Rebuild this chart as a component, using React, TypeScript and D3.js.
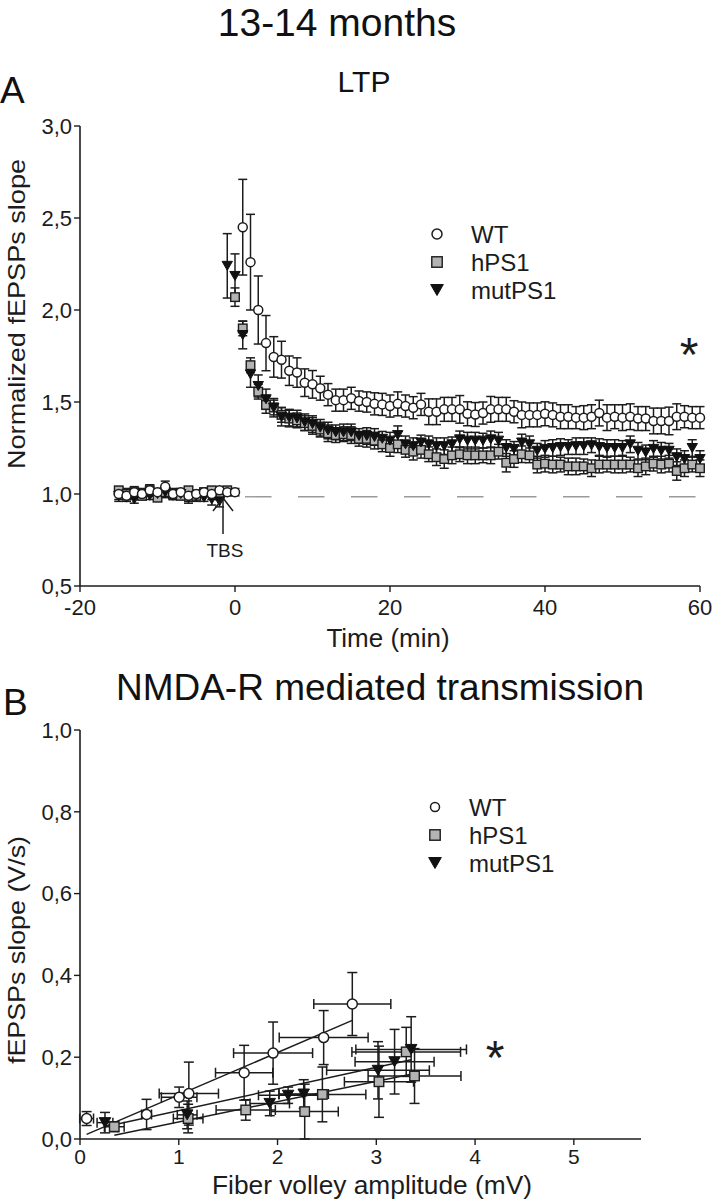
import React from "react";
import * as d3 from "d3";

const FONT = "'Liberation Sans', Arial, Helvetica, sans-serif";
const INK = "#1c1c1c";
const GREY_FILL = "#b3b3b3";

// ---------- Panel A : LTP ----------
const timeTicks = [-20, 0, 20, 40, 60];
const ltpTicks = [0.5, 1.0, 1.5, 2.0, 2.5, 3.0];
const baselineLevel = 0.985;

const wtStart = -15;
const wtBaseline = [1.0, 0.99, 1.01, 1.0, 1.02, 1.01, 1.04, 1.0, 1.01, 0.99, 1.0, 1.01, 1.0, 1.02, 1.01, 1.01];
const wtBaselineErr = [0.03, 0.02, 0.03, 0.02, 0.03, 0.02, 0.03, 0.02, 0.02, 0.03, 0.02, 0.02, 0.03, 0.02, 0.02, 0.02];
const wtPost = [
  2.45, 2.26, 2.0, 1.82, 1.745, 1.73, 1.67, 1.66, 1.605, 1.596,
  1.575, 1.54, 1.51, 1.51, 1.52, 1.505, 1.5, 1.49, 1.487, 1.478,
  1.49, 1.478, 1.469, 1.487, 1.447, 1.447, 1.46, 1.46, 1.46, 1.436,
  1.432, 1.44, 1.46, 1.46, 1.46, 1.447, 1.43, 1.43, 1.43, 1.436,
  1.43, 1.42, 1.42, 1.415, 1.415, 1.42, 1.44, 1.415, 1.42, 1.415,
  1.42, 1.41, 1.41, 1.397, 1.397, 1.397, 1.42, 1.42, 1.415, 1.415,
];
const wtPostErr = [
  0.26, 0.26, 0.185, 0.15, 0.11, 0.1, 0.08, 0.08, 0.075, 0.075,
  0.065, 0.06, 0.06, 0.06, 0.06, 0.055, 0.055, 0.06, 0.06, 0.06,
  0.065, 0.06, 0.06, 0.06, 0.07, 0.07, 0.065, 0.065, 0.075, 0.065,
  0.065, 0.06, 0.07, 0.065, 0.065, 0.06, 0.07, 0.065, 0.065, 0.065,
  0.065, 0.065, 0.065, 0.06, 0.065, 0.065, 0.07, 0.07, 0.065, 0.07,
  0.07, 0.065, 0.065, 0.07, 0.07, 0.075, 0.07, 0.06, 0.06, 0.06,
];

const hps1Start = -15;
const hps1Baseline = [1.02, 1.0, 1.01, 0.99, 1.02, 0.98, 1.01, 1.0, 0.99, 1.02, 0.99, 1.01, 1.02, 1.0, 1.02];
const hps1BaselineErr = [0.02, 0.03, 0.02, 0.02, 0.03, 0.02, 0.02, 0.03, 0.02, 0.02, 0.03, 0.02, 0.02, 0.03, 0.02];
const hps1Post = [
  2.07, 1.9, 1.7, 1.556, 1.484, 1.47, 1.43, 1.41, 1.4, 1.385,
  1.37, 1.35, 1.33, 1.32, 1.325, 1.32, 1.3, 1.3, 1.29, 1.27,
  1.25, 1.27, 1.24, 1.23, 1.24, 1.216, 1.2, 1.19, 1.21, 1.216,
  1.21, 1.21, 1.21, 1.21, 1.23, 1.17, 1.19, 1.216, 1.21, 1.16,
  1.165, 1.16, 1.16, 1.15, 1.15, 1.15, 1.14, 1.16, 1.16, 1.16,
  1.16, 1.16, 1.14, 1.15, 1.165, 1.16, 1.165, 1.125, 1.14, 1.16, 1.14,
];
const hps1PostErr = [
  0.05, 0.04, 0.04, 0.04, 0.045, 0.04, 0.04, 0.045, 0.04, 0.04,
  0.045, 0.04, 0.045, 0.04, 0.04, 0.045, 0.04, 0.045, 0.045, 0.04,
  0.045, 0.045, 0.04, 0.045, 0.045, 0.04, 0.045, 0.05, 0.045, 0.04,
  0.045, 0.045, 0.04, 0.045, 0.04, 0.05, 0.045, 0.045, 0.04, 0.045,
  0.045, 0.045, 0.04, 0.045, 0.045, 0.04, 0.045, 0.045, 0.04, 0.045,
  0.045, 0.04, 0.045, 0.045, 0.04, 0.045, 0.045, 0.05, 0.045, 0.04, 0.045,
];

const mutStart = -15;
const mutBaseline = [0.99, 0.98, 0.97, 1.0, 0.99, 1.0, 1.01, 0.99, 1.0, 0.98, 0.99, 0.98, 0.97, 0.96];
const mutBaselineErr = [0.03, 0.02, 0.02, 0.03, 0.02, 0.02, 0.03, 0.02, 0.02, 0.03, 0.02, 0.02, 0.03, 0.03];
const mutPost = [
  2.24, 2.185,
  1.864, 1.65, 1.587, 1.515, 1.469, 1.42, 1.415, 1.41, 1.39, 1.38,
  1.36, 1.345, 1.335, 1.335, 1.335, 1.315, 1.315, 1.31, 1.3, 1.29,
  1.32, 1.27, 1.26, 1.28, 1.27, 1.26, 1.26, 1.27, 1.297, 1.29,
  1.29, 1.29, 1.297, 1.29, 1.25, 1.245, 1.28, 1.27, 1.235, 1.245,
  1.25, 1.255, 1.255, 1.26, 1.26, 1.265, 1.255, 1.25, 1.25, 1.25,
  1.27, 1.235, 1.226, 1.245, 1.235, 1.235, 1.2, 1.19, 1.25, 1.19,
];
const mutPostErr = [
  0.175, 0.12,
  0.075, 0.07, 0.06, 0.055, 0.05, 0.05, 0.045, 0.045, 0.045, 0.045,
  0.045, 0.045, 0.04, 0.045, 0.045, 0.04, 0.045, 0.045, 0.04, 0.045,
  0.05, 0.045, 0.045, 0.04, 0.045, 0.045, 0.045, 0.04, 0.045, 0.045,
  0.045, 0.04, 0.045, 0.045, 0.045, 0.04, 0.045, 0.045, 0.04, 0.045,
  0.045, 0.045, 0.04, 0.045, 0.045, 0.04, 0.045, 0.045, 0.045, 0.04,
  0.045, 0.045, 0.04, 0.045, 0.045, 0.04, 0.045, 0.045, 0.045, 0.045,
];

// ---------- Panel B : NMDA-R ----------
const fvTicks = [0, 1, 2, 3, 4, 5];
const slopeTicks = [0, 0.2, 0.4, 0.6, 0.8, 1.0];

const wtFv = [0.067, 0.674, 1.004, 1.102, 1.662, 1.955, 2.467, 2.757];
const wtSlope = [0.05, 0.06, 0.102, 0.111, 0.162, 0.21, 0.248, 0.33];
const wtFvErr = [0.07, 0.05, 0.18, 0.3, 0.29, 0.4, 0.45, 0.39];
const wtSlopeErr = [0.017, 0.037, 0.025, 0.077, 0.067, 0.076, 0.066, 0.077];

const hps1Fv = [0.347, 1.095, 1.678, 2.275, 2.454, 3.027, 3.303, 3.387];
const hps1Slope = [0.03, 0.05, 0.071, 0.067, 0.109, 0.14, 0.213, 0.154];
const hps1FvErr = [0.1, 0.15, 0.3, 0.34, 0.44, 0.35, 0.55, 0.47];
const hps1SlopeErr = [0.012, 0.035, 0.025, 0.067, 0.067, 0.087, 0.06, 0.067];

const mutFv = [0.253, 1.085, 1.921, 2.107, 2.265, 3.017, 3.185, 3.353];
const mutSlope = [0.04, 0.059, 0.087, 0.107, 0.11, 0.168, 0.189, 0.219];
const mutFvErr = [0.08, 0.1, 0.2, 0.3, 0.25, 0.52, 0.4, 0.56];
const mutSlopeErr = [0.025, 0.034, 0.03, 0.02, 0.035, 0.07, 0.079, 0.08];

const fitSeries = ["WT", "hPS1", "mutPS1"];
const fitSlopes = [0.1036, 0.0496, 0.0529];
const fitIntercepts = [0.0043, -0.0078, 0.0166];

const legendLabels = ["WT", "hPS1", "mutPS1"];

// ---------- scales ----------
const xA = d3.scaleLinear().domain([-20, 60]).range([80, 700]);
const yA = d3.scaleLinear().domain([0.5, 3.0]).range([586, 126]);
const xB = d3.scaleLinear().domain([0, 5.68]).range([80, 641]);
const yB = d3.scaleLinear().domain([0, 1.0]).range([1139, 730]);

const comma = (v: number) => d3.format(".1f")(v).replace(".", ",");

type Pt = { t: number; v: number; e: number };
const buildSeries = (start: number, base: number[], baseErr: number[], post: number[], postErr: number[]): Pt[] => {
  const all = base.concat(post);
  const errs = baseErr.concat(postErr);
  return all.map((v, i) => ({ t: start + i, v, e: errs[i] }));
};

const seriesA: Record<string, Pt[]> = {
  WT: buildSeries(wtStart, wtBaseline, wtBaselineErr, wtPost, wtPostErr),
  hPS1: buildSeries(hps1Start, hps1Baseline, hps1BaselineErr, hps1Post, hps1PostErr),
  mutPS1: buildSeries(mutStart, mutBaseline, mutBaselineErr, mutPost, mutPostErr),
};

type PtB = { x: number; y: number; ex: number; ey: number };
const zipB = (xs: number[], ys: number[], exs: number[], eys: number[]): PtB[] =>
  xs.map((x, i) => ({ x, y: ys[i], ex: exs[i], ey: eys[i] }));

const seriesB: Record<string, PtB[]> = {
  WT: zipB(wtFv, wtSlope, wtFvErr, wtSlopeErr),
  hPS1: zipB(hps1Fv, hps1Slope, hps1FvErr, hps1SlopeErr),
  mutPS1: zipB(mutFv, mutSlope, mutFvErr, mutSlopeErr),
};

function Marker({ kind, x, y, size }: { kind: string; x: number; y: number; size: number }) {
  if (kind === "WT") {
    return <circle cx={x} cy={y} r={size / 2} fill="#fff" stroke={INK} strokeWidth={1.5} />;
  }
  if (kind === "hPS1") {
    const s = size * 0.95;
    return <rect x={x - s / 2} y={y - s / 2} width={s} height={s} fill={GREY_FILL} stroke={INK} strokeWidth={1.4} />;
  }
  const w = size * 1.15;
  const h = size * 1.0;
  return (
    <path
      d={`M${x - w / 2},${y - h / 2}L${x + w / 2},${y - h / 2}L${x},${y + h / 2}Z`}
      fill="#111"
      stroke="#111"
      strokeWidth={1}
    />
  );
}

const order = ["hPS1", "mutPS1", "WT"];

function PanelA() {
  const cap = 4.5;
  return (
    <g>
      <line x1={80} x2={80} y1={yA(3.0)} y2={yA(0.5)} stroke={INK} strokeWidth={1.6} />
      <line x1={80} x2={xA(60)} y1={yA(0.5)} y2={yA(0.5)} stroke={INK} strokeWidth={1.6} />
      {ltpTicks.map((v) => (
        <g key={"ya" + v}>
          <line x1={74} x2={80} y1={yA(v)} y2={yA(v)} stroke={INK} strokeWidth={1.4} />
          <text x={72} y={yA(v)} dy="0.35em" textAnchor="end" fontSize={22} fontFamily={FONT} fill={INK}>
            {comma(v)}
          </text>
        </g>
      ))}
      {timeTicks.map((t) => (
        <g key={"xa" + t}>
          <line x1={xA(t)} x2={xA(t)} y1={yA(0.5)} y2={yA(0.5) + 6} stroke={INK} strokeWidth={1.4} />
          <text x={xA(t)} y={615} textAnchor="middle" fontSize={22} fontFamily={FONT} fill={INK}>
            {t}
          </text>
        </g>
      ))}
      <text x={388} y={647} textAnchor="middle" fontSize={26} fontFamily={FONT} fill={INK}>
        Time (min)
      </text>
      <text
        transform={`translate(25,${314}) rotate(-90)`}
        textAnchor="middle"
        fontSize={24}
        fontFamily={FONT}
        fill={INK}
        textLength={310}
        lengthAdjust="spacingAndGlyphs"
      >
        Normalized fEPSPs slope
      </text>

      <line
        x1={245}
        x2={698}
        y1={yA(baselineLevel)}
        y2={yA(baselineLevel)}
        stroke="#9a9a9a"
        strokeWidth={1.4}
        strokeDasharray="26.5 26.5"
      />

      {order.map((k) =>
        seriesA[k].map((p, i) => {
          const x = xA(p.t);
          const y1 = yA(p.v + p.e);
          const y2 = yA(p.v - p.e);
          return (
            <g key={k + "e" + i} stroke={INK} strokeWidth={1.5}>
              <line x1={x} x2={x} y1={y1} y2={y2} />
              <line x1={x - cap} x2={x + cap} y1={y1} y2={y1} />
              <line x1={x - cap} x2={x + cap} y1={y2} y2={y2} />
            </g>
          );
        })
      )}
      {order.map((k) =>
        seriesA[k].map((p, i) => (
          <Marker key={k + "m" + i} kind={k} x={xA(p.t)} y={yA(p.v)} size={9} />
        ))
      )}

      <g stroke={INK} strokeWidth={1.5} fill="none">
        <line x1={223} x2={223} y1={498} y2={534} />
        <polyline points="213,511 223,498 233,511" />
      </g>
      <text x={225} y={557} textAnchor="middle" fontSize={19} fontFamily={FONT} fill={INK}>
        TBS
      </text>

      {legendLabels.map((lab, i) => (
        <g key={"la" + lab}>
          <Marker kind={lab} x={437} y={234 + i * 28} size={lab === "WT" ? 10 : 11} />
          <text x={471} y={242.5 + i * 28} fontSize={24} fontFamily={FONT} fill={INK}>
            {lab}
          </text>
        </g>
      ))}
      <text x={689} y={371} textAnchor="middle" fontSize={48} fontFamily={FONT} fill={INK}>
        *
      </text>
    </g>
  );
}

function PanelB() {
  const cap = 5;
  return (
    <g>
      <line x1={80} x2={80} y1={yB(1.0)} y2={yB(0)} stroke={INK} strokeWidth={1.6} />
      <line x1={80} x2={xB(5.68)} y1={yB(0)} y2={yB(0)} stroke={INK} strokeWidth={1.6} />
      {slopeTicks.map((v) => (
        <g key={"yb" + v}>
          <line x1={74} x2={80} y1={yB(v)} y2={yB(v)} stroke={INK} strokeWidth={1.4} />
          <text x={72} y={yB(v)} dy="0.35em" textAnchor="end" fontSize={22} fontFamily={FONT} fill={INK}>
            {comma(v)}
          </text>
        </g>
      ))}
      {fvTicks.map((t) => (
        <g key={"xb" + t}>
          <line x1={xB(t)} x2={xB(t)} y1={yB(0)} y2={yB(0) + 6} stroke={INK} strokeWidth={1.4} />
          <text x={xB(t)} y={1164} textAnchor="middle" fontSize={21} fontFamily={FONT} fill={INK}>
            {t}
          </text>
        </g>
      ))}
      <text x={372} y={1194} textAnchor="middle" fontSize={25} fontFamily={FONT} fill={INK}
        textLength={320} lengthAdjust="spacingAndGlyphs">
        Fiber volley amplitude (mV)
      </text>
      <text
        transform={`translate(25,${950}) rotate(-90)`}
        textAnchor="middle"
        fontSize={24}
        fontFamily={FONT}
        fill={INK}
        textLength={228}
        lengthAdjust="spacingAndGlyphs"
      >
        fEPSPs slope (V/s)
      </text>

      {order.map((k) =>
        seriesB[k].map((p, i) => {
          const x = xB(p.x);
          const y = yB(p.y);
          const xl = xB(p.x - p.ex);
          const xr = xB(p.x + p.ex);
          const yt = yB(p.y + p.ey);
          const yb = yB(Math.max(0, p.y - p.ey));
          return (
            <g key={k + "eb" + i} stroke={INK} strokeWidth={1.5}>
              <line x1={x} x2={x} y1={yt} y2={yb} />
              <line x1={x - cap} x2={x + cap} y1={yt} y2={yt} />
              <line x1={x - cap} x2={x + cap} y1={yb} y2={yb} />
              <line x1={xl} x2={xr} y1={y} y2={y} />
              <line x1={xl} x2={xl} y1={y - cap} y2={y + cap} />
              <line x1={xr} x2={xr} y1={y - cap} y2={y + cap} />
            </g>
          );
        })
      )}

      {fitSeries.map((k, i) => {
        const ext = d3.extent(seriesB[k], (d) => d.x) as [number, number];
        const line = d3
          .line<number>()
          .x((x) => xB(x))
          .y((x) => yB(fitSlopes[i] * x + fitIntercepts[i]));
        return <path key={"fit" + k} d={line(ext) || ""} fill="none" stroke={INK} strokeWidth={1.5} />;
      })}

      {order.map((k) =>
        seriesB[k].map((p, i) => (
          <Marker key={k + "mb" + i} kind={k} x={xB(p.x)} y={yB(p.y)} size={10} />
        ))
      )}

      {legendLabels.map((lab, i) => (
        <g key={"lb" + lab}>
          <Marker kind={lab} x={435} y={807 + i * 28} size={lab === "WT" ? 9 : 11} />
          <text x={469} y={815.5 + i * 28} fontSize={24} fontFamily={FONT} fill={INK}>
            {lab}
          </text>
        </g>
      ))}
      <text x={495} y={1074} textAnchor="middle" fontSize={48} fontFamily={FONT} fill={INK}>
        *
      </text>
    </g>
  );
}

export default function App() {
  return (
    <svg
      width={714}
      height={1200}
      viewBox="0 0 714 1200"
      style={{ position: "absolute", left: 0, top: 0, background: "#fff" }}
    >
      <rect x={0} y={0} width={714} height={1200} fill="#fff" />
      <text x={337} y={36} textAnchor="middle" fontSize={39} fontFamily={FONT} fill="#111">
        13-14 months
      </text>
      <text x={364} y={92} textAnchor="middle" fontSize={30} fontFamily={FONT} fill="#111">
        LTP
      </text>
      <text x={0} y={103} fontSize={37} fontFamily={FONT} fill="#111">
        A
      </text>
      <text x={3} y={715} fontSize={37} fontFamily={FONT} fill="#111">
        B
      </text>
      <text
        x={380}
        y={700}
        textAnchor="middle"
        fontSize={36}
        fontFamily={FONT}
        fill="#111"
        textLength={528}
        lengthAdjust="spacingAndGlyphs"
      >
        NMDA-R mediated transmission
      </text>
      <PanelA />
      <PanelB />
    </svg>
  );
}
